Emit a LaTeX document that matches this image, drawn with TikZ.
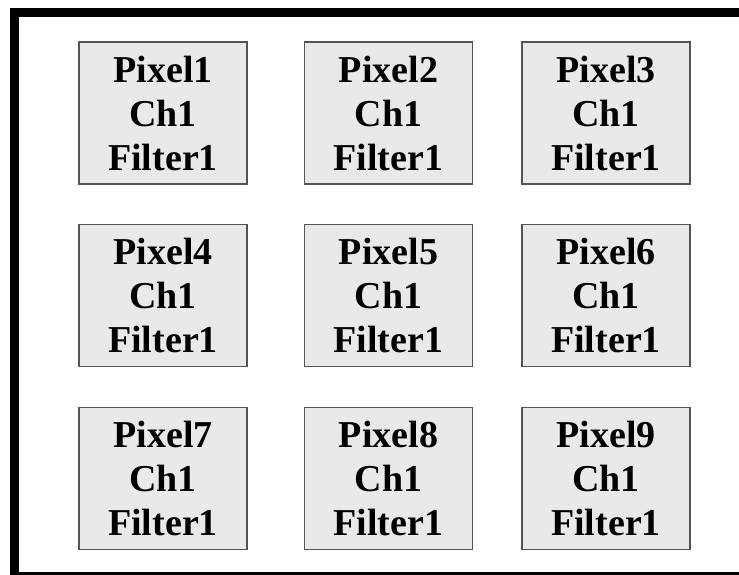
\documentclass[tikz,border=0pt]{standalone}
\usepackage{fontspec}
\setmainfont{Liberation Serif}
\usepackage{tikz}
\usepackage{xcolor}
\definecolor{cellGray}{rgb}{0.91,0.914,0.914}
\definecolor{cellEdge}{rgb}{0.33,0.33,0.33}

\tikzset{pixelbox/.style={draw=cellEdge, fill=cellGray, line width=0.8pt,
  minimum width=84pt, minimum height=71pt, inner sep=0pt, align=center,
  font=\fontsize{19}{22}\selectfont\bfseries}}

\begin{document}
\begin{tikzpicture}[x=0.5pt, y=-0.5pt]
	\useasboundingbox (0,0) rectangle (739,574);
	\clip (0,0) rectangle (739,574);
	% outer frame, only top, left and bottom show
	\draw[line width=4.5pt, black] (14,12) rectangle (760,576);
	% first row
	\node[pixelbox] (p1) at (163,113) {Pixel1\\Ch1\\Filter1};
	\node[pixelbox] (p2) at (388.5,113) {Pixel2\\Ch1\\Filter1};
	\node[pixelbox] (p3) at (606,113) {Pixel3\\Ch1\\Filter1};
	% second row
	\node[pixelbox] (p4) at (163,295.5) {Pixel4\\Ch1\\Filter1};
	\node[pixelbox] (p5) at (388.5,295.5) {Pixel5\\Ch1\\Filter1};
	\node[pixelbox] (p6) at (606,295.5) {Pixel6\\Ch1\\Filter1};
	% third row
	\node[pixelbox] (p7) at (163,478.5) {Pixel7\\Ch1\\Filter1};
	\node[pixelbox] (p8) at (388.5,478.5) {Pixel8\\Ch1\\Filter1};
	\node[pixelbox] (p9) at (606,478.5) {Pixel9\\Ch1\\Filter1};
\end{tikzpicture}
\end{document}
